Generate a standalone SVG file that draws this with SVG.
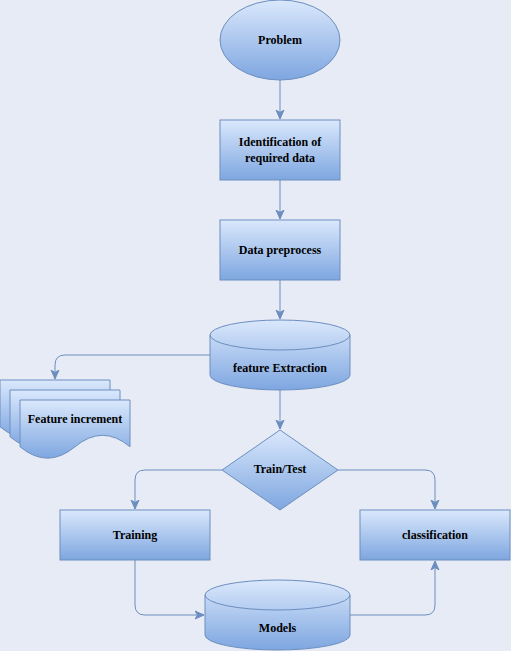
<svg xmlns="http://www.w3.org/2000/svg" width="511" height="651" viewBox="0 0 511 651">
<defs>
<linearGradient id="g" x1="0" y1="0" x2="0" y2="1">
<stop offset="0" stop-color="#dae8fc"/>
<stop offset="1" stop-color="#7ea6e0"/>
</linearGradient>
<marker id="arr" markerUnits="userSpaceOnUse" markerWidth="10" markerHeight="10" viewBox="0 0 10 10" refX="9" refY="5" orient="auto">
<path d="M0,1 L9,5 L0,9 L2.5,5 Z" fill="#6c8ebf" stroke="#6c8ebf" stroke-width="1"/>
</marker>
</defs>
<style>
.s{fill:url(#g);stroke:#6c8ebf;stroke-width:1}
.t{font-family:"Liberation Serif","Times New Roman",serif;font-weight:bold;font-size:12px;fill:#000;text-anchor:middle;dominant-baseline:central}
.c{fill:none;stroke:#6c8ebf;stroke-width:1;marker-end:url(#arr)}
</style>
<rect width="511" height="651" fill="#e6ebf5"/>
<g id="connectors">
<path class="c" d="M280,80 V119"/>
<path class="c" d="M280,180 V219"/>
<path class="c" d="M280,280 V319"/>
<path class="c" d="M280,390 V429"/>
<path class="c" d="M210,355 H65 Q55,355 55,365 V379"/>
<path class="c" d="M222,470 H145 Q135,470 135,480 V509"/>
<path class="c" d="M338,470 H425 Q435,470 435,480 V509"/>
<path class="c" d="M135,560 V605 Q135,615 145,615 H204"/>
<path class="c" d="M350,615 H425 Q435,615 435,605 V561"/>
</g>
<g id="problem">
<ellipse class="s" cx="280" cy="40" rx="60" ry="40"/>
<text class="t" x="280" y="40">Problem</text>
</g>
<g id="identification">
<rect class="s" x="220" y="120" width="120" height="60"/>
<text class="t" x="280" y="142">Identification of</text>
<text class="t" x="280" y="158">required data</text>
</g>
<g id="preprocess">
<rect class="s" x="220" y="220" width="120" height="60"/>
<text class="t" x="280" y="250">Data preprocess</text>
</g>
<g id="extraction">
<path class="s" d="M210,335 A70,15 0 0 1 350,335 V375 A70,15 0 0 1 210,375 Z"/>
<path d="M210,335 A70,15 0 0 0 350,335" fill="none" stroke="#6c8ebf"/>
<text class="t" x="280" y="368">feature Extraction</text>
</g>
<g id="feature-increment">
<path class="s" d="M0,380 H110 V426.75 Q82.5,403.9 55,426.75 Q27.5,449.6 0,426.75 Z"/>
<path class="s" d="M10,390 H120 V436.75 Q92.5,413.9 65,436.75 Q37.5,459.6 10,436.75 Z"/>
<path class="s" d="M20,400 H130 V446.75 Q102.5,423.9 75,446.75 Q47.5,469.6 20,446.75 Z"/>
<text class="t" x="75" y="419">Feature increment</text>
</g>
<g id="traintest">
<path class="s" d="M280,430 L338,470 L280,510 L222,470 Z"/>
<text class="t" x="280" y="469">Train/Test</text>
</g>
<g id="training">
<rect class="s" x="60" y="510" width="150" height="50"/>
<text class="t" x="135" y="535">Training</text>
</g>
<g id="classification">
<rect class="s" x="360" y="510" width="150" height="50"/>
<text class="t" x="435" y="535">classification</text>
</g>
<g id="models">
<path class="s" d="M205,595 A72.5,15 0 0 1 350,595 V635 A72.5,15 0 0 1 205,635 Z"/>
<path d="M205,595 A72.5,15 0 0 0 350,595" fill="none" stroke="#6c8ebf"/>
<text class="t" x="277.5" y="628">Models</text>
</g>
</svg>
